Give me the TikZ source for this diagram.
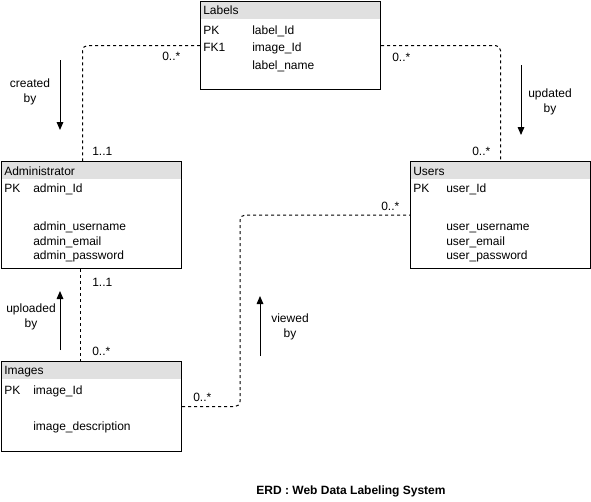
\documentclass[tikz,border=0pt]{standalone}
\usepackage{fontspec}
\setmainfont{Liberation Sans}
\usetikzlibrary{arrows.meta}
\definecolor{headgray}{HTML}{E0E0E0}
\tikzset{
  entity/.style={draw, line width=0.75pt, rectangle, anchor=north west, minimum width=135pt, inner sep=0pt},
  head/.style={fill=headgray, rectangle, anchor=north west, minimum width=135pt, minimum height=13.5pt, inner sep=0pt},
  field/.style={anchor=base west, inner sep=0pt, font=\fontsize{9}{11}\selectfont},
  rel/.style={draw, line width=0.75pt, dash pattern=on 2.25pt off 2.25pt, rounded corners=3.75pt},
  dirarrow/.style={draw, line width=0.75pt, -{Triangle[length=6pt,width=5pt]}},
  verb/.style={align=center, inner sep=0pt, font=\fontsize{9}{11.25}\selectfont},
}
\begin{document}
\begin{tikzpicture}[x=0.75pt,y=-0.75pt]
\useasboundingbox (0,0) rectangle (591,501);

% Labels
\node[head] (labelshead) at (200,1) {};
\node[entity, minimum height=66pt] (labels) at (200,1) {};
\node[field] (labelsname) at (203,14) {Labels};
\node[field] (labelspk) at (203,34) {PK};
\node[field] (labelsfk) at (203,51) {FK1};
\node[field] (labelsf1) at (252,34) {label\_Id};
\node[field] (labelsf2) at (252,51) {image\_Id};
\node[field] (labelsf3) at (252,69) {label\_name};

% Administrator
\node[head] (adminhead) at (1,161) {};
\node[entity, minimum height=80.25pt] (admin) at (1,161) {};
\node[field] (adminname) at (4,175) {Administrator};
\node[field] (adminpk) at (4,192) {PK};
\node[field] (adminf1) at (33,192) {admin\_Id};
\node[field] (adminf2) at (33,230) {admin\_username};
\node[field] (adminf3) at (33,245) {admin\_email};
\node[field] (adminf4) at (33,259) {admin\_password};

% Users
\node[head] (usershead) at (410,161) {};
\node[entity, minimum height=80.25pt] (users) at (410,161) {};
\node[field] (usersname) at (413,175) {Users};
\node[field] (userspk) at (413,192) {PK};
\node[field] (usersf1) at (446,192) {user\_Id};
\node[field] (usersf2) at (446,230) {user\_username};
\node[field] (usersf3) at (446,245) {user\_email};
\node[field] (usersf4) at (446,259) {user\_password};

% Images
\node[head] (imageshead) at (1,361) {};
\node[entity, minimum height=67.5pt] (images) at (1,361) {};
\node[field] (imagesname) at (4,374) {Images};
\node[field] (imagespk) at (4,394) {PK};
\node[field] (imagesf1) at (33,394) {image\_Id};
\node[field] (imagesf2) at (33,430) {image\_description};

% relations
\coordinate (bend) at (240,0);
\path[rel] (labels.west) -| ([xshift=-6.75pt]admin.north);
\path[rel] (labels.east) -| (users.north);
\path[rel] ([xshift=-8.25pt]admin.south) -- ([xshift=-8.25pt]images.north);
\path[rel] (images.east) -- (images.east -| bend) -- (users.west -| bend) -- (users.west);

\node[field] (c1) at (162,60) {0..*};
\node[field] (c2) at (92,155) {1..1};
\node[field] (c3) at (392,61) {0..*};
\node[field] (c4) at (472,155) {0..*};
\node[field] (c5) at (92,286) {1..1};
\node[field] (c6) at (92,355) {0..*};
\node[field] (c7) at (193,401) {0..*};
\node[field] (c8) at (381,210) {0..*};

% reading direction
\coordinate (created1) at (60,60);
\coordinate (created2) at (60,130);
\coordinate (updated1) at (521,65);
\coordinate (updated2) at (521,135);
\coordinate (uploaded1) at (60,350);
\coordinate (uploaded2) at (60,291);
\coordinate (viewed1) at (260,356);
\coordinate (viewed2) at (260,296);
\path[dirarrow] (created1) -- (created2);
\path[dirarrow] (updated1) -- (updated2);
\path[dirarrow] (uploaded1) -- (uploaded2);
\path[dirarrow] (viewed1) -- (viewed2);

\node[verb] (createdby) at (30,92) {created\\by};
\node[verb] (updatedby) at (550,102) {updated\\by};
\node[verb] (uploadedby) at (31,317) {uploaded\\by};
\node[verb] (viewedby) at (290,327) {viewed\\by};

\node[font=\fontsize{9}{11}\selectfont\bfseries, inner sep=0pt] (title) at (351,491) {ERD : Web Data Labeling System};
\end{tikzpicture}
\end{document}
